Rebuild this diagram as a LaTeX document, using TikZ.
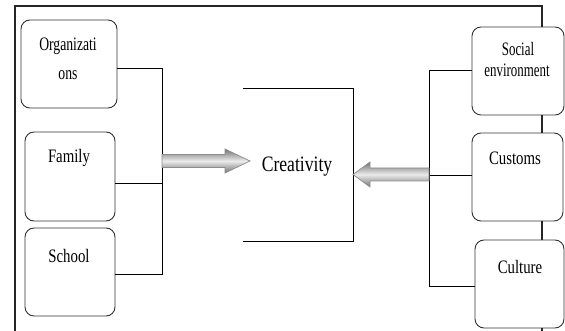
\documentclass[tikz,border=0pt]{standalone}
\usepackage{fontspec}
\usepackage{graphicx}
\setmainfont{Liberation Serif}
\newcommand{\narrow}[2][0.8]{\scalebox{#1}[1]{#2}}
\tikzset{
  box/.style={draw=black!80, line width=0.9pt, rounded corners=9pt, rectangle, inner sep=0pt},
  conn/.style={draw=black, line width=0.9pt},
  frameline/.style={draw=black!85, line width=1.1pt},
  lbl/.style={anchor=base, inner sep=0pt, font=\fontsize{19}{22}\selectfont},
  fatarrow/.style={draw=black!45, line width=0.7pt, top color=black!55, bottom color=black!55, middle color=black!8}
}
\begin{document}
\begin{tikzpicture}[x=1pt, y=-1pt]
\useasboundingbox (0,0) rectangle (565,331);

% outer frame; its right side runs through the right-hand boxes
\coordinate (frameBL) at (15,331);
\coordinate (frameTL) at (15,6);
\coordinate (frameTR) at (542,6);
\coordinate (frameBR) at (542,331);

% left-hand boxes
\node[box, minimum width=96pt, minimum height=88pt] (org) at (69,64) {};
\node[box, minimum width=90pt, minimum height=89pt] (fam) at (70,176.5) {};
\node[box, minimum width=90pt, minimum height=88pt] (sch) at (70,272) {};
\node[lbl] (orgA) at (68,51) {\narrow[0.72]{Organizati}};
\node[lbl] (orgB) at (68,80) {\narrow[0.72]{ons}};
\node[lbl] (famT) at (69,163) {\narrow[0.78]{Family}};
\node[lbl] (schT) at (69,262) {\narrow[0.78]{School}};

% right-hand boxes
\node[box, minimum width=92pt, minimum height=88pt] (soc) at (518,71) {};
\node[box, minimum width=91pt, minimum height=88pt] (cus) at (517.5,177) {};
\node[box, minimum width=89pt, minimum height=88pt] (cul) at (519.5,284) {};
\node[lbl] (socA) at (518,56) {\narrow[0.68]{Social}};
\node[lbl] (socB) at (517,77) {\narrow[0.68]{environment}};
\node[lbl] (cusT) at (515,165) {\narrow[0.78]{Customs}};
\node[lbl] (culT) at (520,273) {\narrow[0.78]{Culture}};

% frame
\draw[frameline] (frameBL) -- (frameTL) -- (frameTR) -- (frameTR |- soc.north);
\draw[frameline] (frameTR |- soc.south) -- (frameTR |- cus.north);
\draw[frameline] (frameTR |- cus.south) -- (frameTR |- cul.north);
\draw[frameline] (frameTR |- cul.south) -- (frameBR);

% left bracket
\coordinate (lbT) at (162,68);
\coordinate (lbM) at (162,183);
\coordinate (lbB) at (162,274);
\draw[conn] (org.east |- lbT) -- (lbT) -- (lbB) -- (sch.east |- lbB);
\draw[conn] (fam.east |- lbM) -- (lbM);

% right bracket
\coordinate (rbT) at (429,70);
\coordinate (rbM) at (429,175);
\coordinate (rbB) at (429,286);
\draw[conn] (soc.west |- rbT) -- (rbT) -- (rbB) -- (cul.west |- rbB);
\draw[conn] (cus.west |- rbM) -- (rbM);

% Creativity
\coordinate (cTL) at (243,88);
\coordinate (cTR) at (353,88);
\coordinate (cBR) at (353,241);
\coordinate (cBL) at (243,241);
\draw[conn] (cTL) -- (cTR) -- (cBR) -- (cBL);
\node[lbl, font=\fontsize{22}{26}\selectfont] (cre) at (297,172) {\narrow[0.8]{Creativity}};

% fat arrows into Creativity
\path[fatarrow] (lbM |- 0,154.5) -- (225,154.5) -- (225,149) -- (250,161)
  -- (225,173) -- (225,167.5) -- (lbM |- 0,167.5) -- cycle;
\path[fatarrow] (rbM |- 0,168) -- (370,168) -- (370,162) -- (cTR |- 0,174.5)
  -- (370,187) -- (370,181) -- (rbM |- 0,181) -- cycle;
\end{tikzpicture}
\end{document}
